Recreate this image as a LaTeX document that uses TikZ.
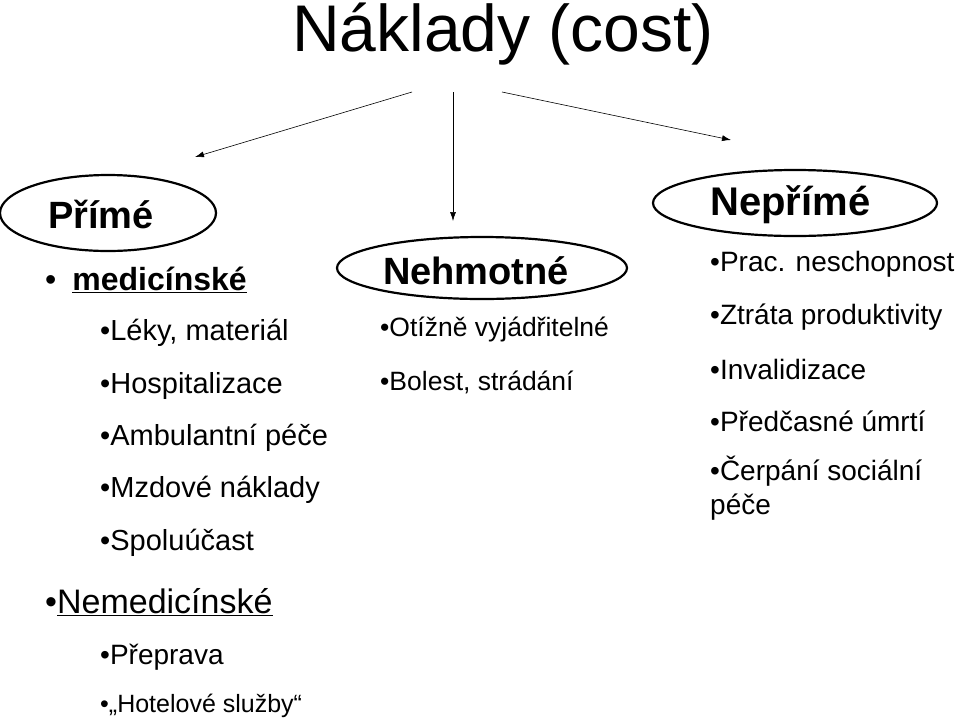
\documentclass[tikz,border=0pt]{standalone}
\usepackage{fontspec}
\setmainfont{Liberation Sans}
\usetikzlibrary{arrows.meta}
\begin{document}
\begin{tikzpicture}[x=1pt,y=-1pt,
  lbl/.style={anchor=west,inner sep=0pt},
  arr/.style={-{Latex[length=9pt,width=6pt]},line width=0.6pt}]
\useasboundingbox (0,0) rectangle (959,721);
\node[inner sep=0pt] (title) at (503,34) {\fontsize{66}{70}\selectfont Náklady (cost)};
\coordinate (a1) at (412,92); \coordinate (a2) at (453,92); \coordinate (a3) at (502,92);
\coordinate (t1) at (195,157); \coordinate (t2) at (453,221); \coordinate (t3) at (731,140);
\draw[arr] (a1) -- (t1);
\draw[arr] (a2) -- (t2);
\draw[arr] (a3) -- (t3);
\draw[line width=2.2pt] (108,213) ellipse (108 and 38);
\draw[line width=2.2pt] (482,268) ellipse (145 and 31);
\draw[line width=2.2pt] (795,203) ellipse (142 and 33);
\node[lbl] (p) at (48,214) {\fontsize{38}{42}\selectfont\bfseries Přímé};
\node[lbl] (med) at (45,280) {\fontsize{32}{36}\selectfont •\enspace\bfseries\underline{medicínské}};
\foreach \t/\y in {Léky{,} materiál/333, Hospitalizace/386, Ambulantní péče/438, Mzdové náklady/490, Spoluúčast/543}
  \node[lbl] at (100,\y) {\fontsize{29}{33}\selectfont •\t};
\node[lbl] (nemed) at (45,602) {\fontsize{34}{38}\selectfont •\underline{Nemedicínské}};
\node[lbl] at (100,657) {\fontsize{28}{32}\selectfont •Přeprava};
\node[lbl] at (100,706) {\fontsize{25}{29}\selectfont •„Hotelové služby“};
\node[lbl] (nh) at (383,271) {\fontsize{38}{42}\selectfont\bfseries Nehmotné};
\node[lbl] at (380,329) {\fontsize{26.5}{30}\selectfont •Otížně vyjádřitelné};
\node[lbl] at (380,382) {\fontsize{26.5}{30}\selectfont •Bolest, strádání};
\node[lbl] (np) at (710,205) {\fontsize{40}{44}\selectfont\bfseries Nepřímé};
\node[lbl] at (710,264) {\fontsize{28}{32}\selectfont •Prac. neschopnost};
\node[lbl] at (710,317) {\fontsize{28}{32}\selectfont •Ztráta produktivity};
\node[lbl] at (710,369) {\fontsize{28}{32}\selectfont •Invalidizace};
\node[lbl] at (710,421) {\fontsize{28}{32}\selectfont •Předčasné úmrtí};
\node[lbl] at (710,471) {\fontsize{28}{32}\selectfont •Čerpání sociální};
\node[lbl] at (710,507) {\fontsize{28}{32}\selectfont péče};
\end{tikzpicture}
\end{document}
